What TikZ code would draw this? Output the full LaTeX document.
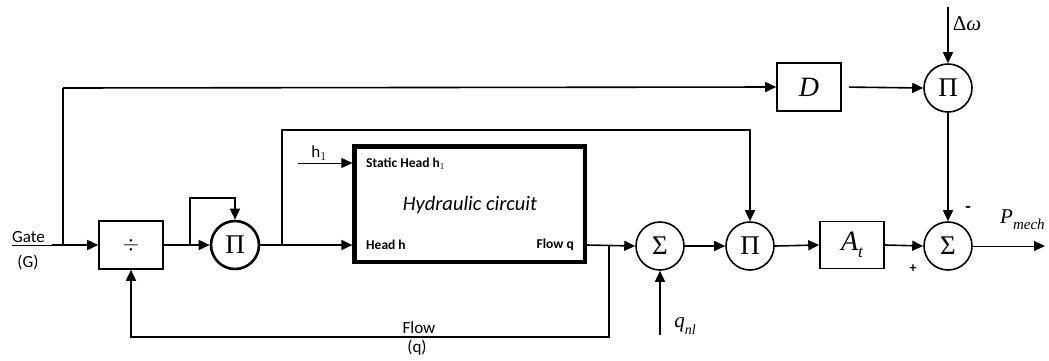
\documentclass[tikz,border=0pt]{standalone}
\usepackage{fontspec}
\setmainfont{Carlito}
\newfontfamily\tms{Liberation Serif}
\usetikzlibrary{arrows.meta}
\begin{document}
\begin{tikzpicture}[x=1pt,y=-1pt,
  ln/.style={line width=1.6pt},
  arr/.style={ln,-{Triangle[length=11pt,width=10pt]}},
  blk/.style={draw,line width=1.6pt,minimum width=64pt,minimum height=48pt,inner sep=0pt,font=\tms\fontsize{28}{30}\selectfont},
  circ/.style={draw,circle,line width=1.6pt,minimum size=48pt,inner sep=0pt,font=\tms\fontsize{27}{29}\selectfont},
  lab/.style={font=\fontsize{17}{19}\selectfont,inner sep=0pt},
  inlab/.style={font=\fontsize{13.5}{15}\selectfont\bfseries,inner sep=0pt},
  mlab/.style={font=\tms\fontsize{21}{23}\selectfont,inner sep=0pt}]
\useasboundingbox (0,0) rectangle (1049,360);
% blocks
\node[blk,font=\fontsize{22}{24}\selectfont] (div) at (131,245) {$\div$};
\node[circ,line width=2.6pt] (p1) at (235,245) {Π};
\node[draw,line width=3.2pt,minimum width=231pt,minimum height=116pt,inner sep=0pt] (hyd) at (469.5,204) {};
\draw[line width=0.8pt] ([shift={(3.5,3.5)}]hyd.north west) rectangle ([shift={(-3.5,-3.5)}]hyd.south east);
\node[circ] (s1) at (660,246) {Σ};
\node[circ] (p3) at (750,246) {Π};
\node[blk,minimum height=47pt] (at) at (852,245) {\itshape A\raisebox{-0.25em}{\fontsize{17}{17}\selectfont t}};
\node[circ] (s2) at (948,246) {Σ};
\node[blk] (d) at (809,87) {\itshape D};
\node[circ] (p2) at (948,88) {Π};
% texts inside hydraulic
\node[inlab,anchor=west] (sh) at (366,164) {Static Head h$_{1}$};
\node[font=\fontsize{20.5}{22}\selectfont\itshape,inner sep=0pt] (hc) at (470,205) {Hydraulic circuit};
\node[inlab,anchor=west] (hh) at (366,245) {Head h};
\node[inlab,anchor=east] (fq) at (574,245) {Flow q};
% coordinates
\coordinate (gin) at (12,245);
\coordinate (gm) at (52,245);
\coordinate (g) at (63,245);
\coordinate (gt) at (63,88);
\coordinate (l1) at (190,245);
\coordinate (l2) at (190,198);
\coordinate (l3) at (235,198);
\coordinate (b1) at (282,245);
\coordinate (b2) at (282,130);
\coordinate (b3) at (750,130);
\coordinate (hin) at (hyd.west |- 0,245);
\coordinate (hout) at (hyd.east |- 0,245);
\coordinate (h1a) at (298,163);
\coordinate (h1b) at (hyd.west |- 0,163);
\coordinate (f1) at (609,245);
\coordinate (f2) at (609,337);
\coordinate (f3) at (131,337);
\coordinate (qn) at (660,335);
\coordinate (dw) at (948,7);
\coordinate (pout) at (1045,246);
% labels
\node[lab,anchor=base west] (gate) at (12,242) {Gate};
\node[lab] (gg) at (28,262) {(G)};
\node[lab] (h1) at (319,153) {h$_{1}$};
\node[lab,anchor=base] (flow) at (419,333) {Flow};
\node[lab] (fq2) at (417,348) {(q)};
\node[mlab] (qnl) at (685,326) {\itshape q\raisebox{-0.3em}{\fontsize{14}{14}\selectfont nl}};
\node[mlab] (dwl) at (967,24) {Δ\itshape ω};
\node[mlab,anchor=base west] (pm) at (1000,223) {\itshape P\raisebox{-0.3em}{\fontsize{15}{15}\selectfont mech}};
\node[font=\fontsize{18}{18}\selectfont\bfseries,inner sep=0pt] (minus) at (968,209) {-};
\node[font=\fontsize{14}{14}\selectfont\bfseries,inner sep=0pt] (plus) at (913,269) {+};
% connectors
\draw[line width=0.8pt] (gin) -- (gm);
\draw[arr] (gm) -- (div.west);
\draw[ln] (g) -- (gt);
\draw[arr] (gt) -- (d.west);
\draw[arr] (div.east) -- (p1.west);
\draw[arr] (l1) -- (l2) -- (l3) -- (p1.north);
\draw[arr] (p1.east) -- (hin);
\draw[arr] (b1) -- (b2) -- (b3) -- (p3.north);
\draw[line width=0.8pt,-{Triangle[length=11pt,width=10pt]}] (h1a) -- (h1b);
\draw[arr] (hout) -- (s1.west);
\draw[arr] (f1) -- (f2) -- (f3) -- (div.south);
\draw[arr] (qn) -- (s1.south);
\draw[arr] (s1.east) -- (p3.west);
\draw[arr] (p3.east) -- (at.west);
\draw[arr] (at.east) -- (s2.west);
\draw[arr,shorten <=7pt] (d.east) -- (p2.west);
\draw[arr] (dw) -- (p2.north);
\draw[arr] (p2.south) -- (s2.north);
\draw[line width=0.9pt,-{Triangle[length=11pt,width=10pt]}] (s2.east) -- (pout);
\end{tikzpicture}
\end{document}
